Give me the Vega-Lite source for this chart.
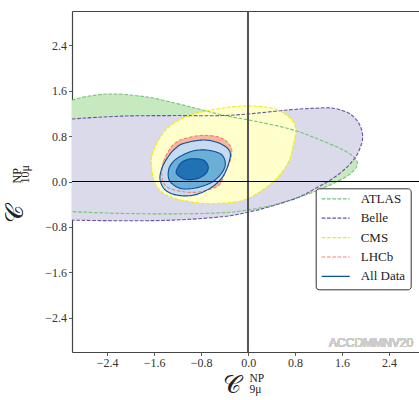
{
  "$schema": "https://vega.github.io/schema/vega-lite/v6.json",
  "width": 347,
  "height": 341,
  "autosize": {"type": "none"},
  "padding": {"left": 72, "top": 11, "right": 0, "bottom": 48},
  "background": "white",
  "config": {"view": {"stroke": null}},
  "datasets": {
    "contours": [
      {"g":"ATLAS","c":"ATLAS","i":0,"x":-3.3,"y":1.25},
      {"g":"ATLAS","c":"ATLAS","i":1,"x":-3.0,"y":1.43},
      {"g":"ATLAS","c":"ATLAS","i":2,"x":-2.6,"y":1.52},
      {"g":"ATLAS","c":"ATLAS","i":3,"x":-2.26,"y":1.54},
      {"g":"ATLAS","c":"ATLAS","i":4,"x":-1.9,"y":1.51},
      {"g":"ATLAS","c":"ATLAS","i":5,"x":-1.58,"y":1.46},
      {"g":"ATLAS","c":"ATLAS","i":6,"x":-1.01,"y":1.32},
      {"g":"ATLAS","c":"ATLAS","i":7,"x":-0.44,"y":1.17},
      {"g":"ATLAS","c":"ATLAS","i":8,"x":0.12,"y":1.06},
      {"g":"ATLAS","c":"ATLAS","i":9,"x":0.69,"y":0.93},
      {"g":"ATLAS","c":"ATLAS","i":10,"x":1.11,"y":0.78},
      {"g":"ATLAS","c":"ATLAS","i":11,"x":1.57,"y":0.58},
      {"g":"ATLAS","c":"ATLAS","i":12,"x":1.79,"y":0.44},
      {"g":"ATLAS","c":"ATLAS","i":13,"x":1.86,"y":0.33},
      {"g":"ATLAS","c":"ATLAS","i":14,"x":1.82,"y":0.22},
      {"g":"ATLAS","c":"ATLAS","i":15,"x":1.68,"y":0.09},
      {"g":"ATLAS","c":"ATLAS","i":16,"x":1.40,"y":-0.06},
      {"g":"ATLAS","c":"ATLAS","i":17,"x":1.10,"y":-0.19},
      {"g":"ATLAS","c":"ATLAS","i":18,"x":0.80,"y":-0.30},
      {"g":"ATLAS","c":"ATLAS","i":19,"x":0.41,"y":-0.42},
      {"g":"ATLAS","c":"ATLAS","i":20,"x":0.0,"y":-0.50},
      {"g":"ATLAS","c":"ATLAS","i":21,"x":-0.44,"y":-0.55},
      {"g":"ATLAS","c":"ATLAS","i":22,"x":-1.29,"y":-0.57},
      {"g":"ATLAS","c":"ATLAS","i":23,"x":-2.2,"y":-0.56},
      {"g":"ATLAS","c":"ATLAS","i":24,"x":-3.0,"y":-0.53},
      {"g":"ATLAS","c":"ATLAS","i":25,"x":-3.3,"y":-0.50},

      {"g":"Belle","c":"Belle","i":0,"x":-3.3,"y":1.06},
      {"g":"Belle","c":"Belle","i":1,"x":-3.0,"y":1.10},
      {"g":"Belle","c":"Belle","i":2,"x":-2.15,"y":1.15},
      {"g":"Belle","c":"Belle","i":3,"x":-1.29,"y":1.16},
      {"g":"Belle","c":"Belle","i":4,"x":-0.44,"y":1.16},
      {"g":"Belle","c":"Belle","i":5,"x":0.12,"y":1.20},
      {"g":"Belle","c":"Belle","i":6,"x":0.69,"y":1.26},
      {"g":"Belle","c":"Belle","i":7,"x":1.15,"y":1.29},
      {"g":"Belle","c":"Belle","i":8,"x":1.45,"y":1.29},
      {"g":"Belle","c":"Belle","i":9,"x":1.70,"y":1.21},
      {"g":"Belle","c":"Belle","i":10,"x":1.85,"y":1.08},
      {"g":"Belle","c":"Belle","i":11,"x":1.93,"y":0.92},
      {"g":"Belle","c":"Belle","i":12,"x":1.95,"y":0.76},
      {"g":"Belle","c":"Belle","i":13,"x":1.91,"y":0.60},
      {"g":"Belle","c":"Belle","i":14,"x":1.83,"y":0.43},
      {"g":"Belle","c":"Belle","i":15,"x":1.68,"y":0.25},
      {"g":"Belle","c":"Belle","i":16,"x":1.45,"y":0.06},
      {"g":"Belle","c":"Belle","i":17,"x":1.15,"y":-0.12},
      {"g":"Belle","c":"Belle","i":18,"x":0.85,"y":-0.28},
      {"g":"Belle","c":"Belle","i":19,"x":0.41,"y":-0.43},
      {"g":"Belle","c":"Belle","i":20,"x":0.0,"y":-0.54},
      {"g":"Belle","c":"Belle","i":21,"x":-0.44,"y":-0.62},
      {"g":"Belle","c":"Belle","i":22,"x":-1.29,"y":-0.68},
      {"g":"Belle","c":"Belle","i":23,"x":-2.15,"y":-0.69},
      {"g":"Belle","c":"Belle","i":24,"x":-3.0,"y":-0.68},
      {"g":"Belle","c":"Belle","i":25,"x":-3.3,"y":-0.67},

      {"g":"CMS","c":"CMS","i":0,"x":-1.65,"y":0.29},
      {"g":"CMS","c":"CMS","i":1,"x":-1.61,"y":0.55},
      {"g":"CMS","c":"CMS","i":2,"x":-1.47,"y":0.82},
      {"g":"CMS","c":"CMS","i":3,"x":-1.33,"y":0.98},
      {"g":"CMS","c":"CMS","i":4,"x":-1.12,"y":1.11},
      {"g":"CMS","c":"CMS","i":5,"x":-0.88,"y":1.20},
      {"g":"CMS","c":"CMS","i":6,"x":-0.61,"y":1.26},
      {"g":"CMS","c":"CMS","i":7,"x":-0.30,"y":1.31},
      {"g":"CMS","c":"CMS","i":8,"x":0.01,"y":1.33},
      {"g":"CMS","c":"CMS","i":9,"x":0.41,"y":1.29},
      {"g":"CMS","c":"CMS","i":10,"x":0.69,"y":1.14},
      {"g":"CMS","c":"CMS","i":11,"x":0.81,"y":0.94},
      {"g":"CMS","c":"CMS","i":12,"x":0.77,"y":0.64},
      {"g":"CMS","c":"CMS","i":13,"x":0.69,"y":0.35},
      {"g":"CMS","c":"CMS","i":14,"x":0.49,"y":0.06},
      {"g":"CMS","c":"CMS","i":15,"x":0.20,"y":-0.18},
      {"g":"CMS","c":"CMS","i":16,"x":-0.08,"y":-0.33},
      {"g":"CMS","c":"CMS","i":17,"x":-0.42,"y":-0.38},
      {"g":"CMS","c":"CMS","i":18,"x":-0.82,"y":-0.38},
      {"g":"CMS","c":"CMS","i":19,"x":-1.33,"y":-0.27},
      {"g":"CMS","c":"CMS","i":20,"x":-1.57,"y":-0.06},

      {"g":"LHCb","c":"LHCb","i":0,"x":-1.47,"y":0.11},
      {"g":"LHCb","c":"LHCb","i":1,"x":-1.44,"y":0.35},
      {"g":"LHCb","c":"LHCb","i":2,"x":-1.33,"y":0.58},
      {"g":"LHCb","c":"LHCb","i":3,"x":-1.21,"y":0.70},
      {"g":"LHCb","c":"LHCb","i":4,"x":-1.10,"y":0.75},
      {"g":"LHCb","c":"LHCb","i":5,"x":-0.82,"y":0.81},
      {"g":"LHCb","c":"LHCb","i":6,"x":-0.53,"y":0.79},
      {"g":"LHCb","c":"LHCb","i":7,"x":-0.36,"y":0.70},
      {"g":"LHCb","c":"LHCb","i":8,"x":-0.28,"y":0.55},
      {"g":"LHCb","c":"LHCb","i":9,"x":-0.31,"y":0.35},
      {"g":"LHCb","c":"LHCb","i":10,"x":-0.39,"y":0.17},
      {"g":"LHCb","c":"LHCb","i":11,"x":-0.44,"y":0.03},
      {"g":"LHCb","c":"LHCb","i":12,"x":-0.53,"y":-0.09},
      {"g":"LHCb","c":"LHCb","i":13,"x":-0.82,"y":-0.18},
      {"g":"LHCb","c":"LHCb","i":14,"x":-1.10,"y":-0.18},
      {"g":"LHCb","c":"LHCb","i":15,"x":-1.39,"y":-0.09},

      {"g":"AD3","c":"All Data","i":0,"x":-1.50,"y":0.03},
      {"g":"AD3","c":"All Data","i":1,"x":-1.47,"y":0.23},
      {"g":"AD3","c":"All Data","i":2,"x":-1.36,"y":0.44},
      {"g":"AD3","c":"All Data","i":3,"x":-1.24,"y":0.58},
      {"g":"AD3","c":"All Data","i":4,"x":-1.10,"y":0.67},
      {"g":"AD3","c":"All Data","i":5,"x":-0.76,"y":0.73},
      {"g":"AD3","c":"All Data","i":6,"x":-0.48,"y":0.67},
      {"g":"AD3","c":"All Data","i":7,"x":-0.31,"y":0.52},
      {"g":"AD3","c":"All Data","i":8,"x":-0.34,"y":0.29},
      {"g":"AD3","c":"All Data","i":9,"x":-0.45,"y":0.06},
      {"g":"AD3","c":"All Data","i":10,"x":-0.65,"y":-0.12},
      {"g":"AD3","c":"All Data","i":11,"x":-0.93,"y":-0.24},
      {"g":"AD3","c":"All Data","i":12,"x":-1.21,"y":-0.24},
      {"g":"AD3","c":"All Data","i":13,"x":-1.41,"y":-0.15},

      {"g":"AD2","c":"All Data","i":0,"x":-1.33,"y":0.00},
      {"g":"AD2","c":"All Data","i":1,"x":-1.36,"y":0.17},
      {"g":"AD2","c":"All Data","i":2,"x":-1.30,"y":0.32},
      {"g":"AD2","c":"All Data","i":3,"x":-1.16,"y":0.44},
      {"g":"AD2","c":"All Data","i":4,"x":-0.93,"y":0.54},
      {"g":"AD2","c":"All Data","i":5,"x":-0.68,"y":0.55},
      {"g":"AD2","c":"All Data","i":6,"x":-0.45,"y":0.47},
      {"g":"AD2","c":"All Data","i":7,"x":-0.39,"y":0.29},
      {"g":"AD2","c":"All Data","i":8,"x":-0.48,"y":0.11},
      {"g":"AD2","c":"All Data","i":9,"x":-0.65,"y":-0.03},
      {"g":"AD2","c":"All Data","i":10,"x":-0.93,"y":-0.12},
      {"g":"AD2","c":"All Data","i":11,"x":-1.16,"y":-0.12},

      {"g":"AD1","c":"All Data","i":0,"x":-1.22,"y":0.14},
      {"g":"AD1","c":"All Data","i":1,"x":-1.19,"y":0.26},
      {"g":"AD1","c":"All Data","i":2,"x":-1.13,"y":0.34},
      {"g":"AD1","c":"All Data","i":3,"x":-1.02,"y":0.39},
      {"g":"AD1","c":"All Data","i":4,"x":-0.90,"y":0.40},
      {"g":"AD1","c":"All Data","i":5,"x":-0.75,"y":0.37},
      {"g":"AD1","c":"All Data","i":6,"x":-0.68,"y":0.26},
      {"g":"AD1","c":"All Data","i":7,"x":-0.72,"y":0.14},
      {"g":"AD1","c":"All Data","i":8,"x":-0.87,"y":0.05},
      {"g":"AD1","c":"All Data","i":9,"x":-1.07,"y":0.04}
    ]
  },
  "data": {"name": "contours"},
  "resolve": {"axis": {"x": "independent", "y": "independent"}},
  "layer": [
    {
      "transform": [{"filter": {"field": "g", "equal": "ATLAS"}}],
      "mark": {"type": "line", "interpolate": "cardinal-closed", "fill": "#c7e9c0", "strokeWidth": 0, "strokeOpacity": 0, "clip": true},
      "encoding": {
        "x": {"field": "x", "type": "quantitative", "scale": {"domain": [-3, 2.91], "nice": false, "zero": false},
          "axis": {"orient": "bottom", "values": [-2.4, -1.6, -0.8, 0, 0.8, 1.6, 2.4], "format": ".1f", "grid": false,
            "labelFont": "Liberation Serif", "labelFontSize": 12, "labelColor": "#333", "labelPadding": 2,
            "tickColor": "#333", "tickSize": 3.5, "tickWidth": 0.8, "domainColor": "#444", "domainWidth": 1.2,
            "title": "𝒞", "titleFont": "DejaVu Serif", "titleFontSize": 25, "titleFontWeight": "normal", "titleColor": "#222",
            "titleX": 159, "titleY": 40, "titleAlign": "center", "titleBaseline": "alphabetic"}},
        "y": {"field": "y", "type": "quantitative", "scale": {"domain": [-3, 3], "nice": false, "zero": false},
          "axis": {"orient": "left", "values": [-2.4, -1.6, -0.8, 0, 0.8, 1.6, 2.4], "format": ".1f", "grid": false,
            "labelFont": "Liberation Serif", "labelFontSize": 12, "labelColor": "#333", "labelPadding": 2,
            "tickColor": "#333", "tickSize": 3.5, "tickWidth": 0.8, "domainColor": "#444", "domainWidth": 1.2,
            "title": "𝒞", "titleFont": "DejaVu Serif", "titleFontSize": 25, "titleFontWeight": "normal", "titleColor": "#222",
            "titleAngle": 270, "titleX": -50, "titleY": 202, "titleAlign": "center", "titleBaseline": "alphabetic"}},
        "order": {"field": "i", "type": "quantitative"}
      }
    },
    {
      "transform": [{"filter": {"field": "g", "equal": "Belle"}}],
      "mark": {"type": "line", "interpolate": "cardinal-closed", "fill": "#dadaeb", "strokeWidth": 0, "strokeOpacity": 0, "clip": true},
      "encoding": {
        "x": {"field": "x", "type": "quantitative", "scale": {"domain": [-3, 2.91], "nice": false, "zero": false},
          "axis": {"orient": "top", "grid": false, "ticks": false, "labels": false, "domain": true, "domainColor": "#444", "domainWidth": 1.2,
            "title": ["NP", "9μ"], "titleFont": "Liberation Serif", "titleFontSize": 11.5, "titleFontWeight": "normal", "titleColor": "#222",
            "titleLineHeight": 11.5, "titleX": 177, "titleY": 370, "titleAlign": "left", "titleBaseline": "alphabetic", "titleAngle": 0}},
        "y": {"field": "y", "type": "quantitative", "scale": {"domain": [-3, 3], "nice": false, "zero": false},
          "axis": {"orient": "right", "grid": false, "ticks": false, "labels": false, "domain": false,
            "title": ["NP", "10μ"], "titleFont": "Liberation Serif", "titleFontSize": 12, "titleFontWeight": "normal", "titleColor": "#222",
            "titleLineHeight": 7.5, "titleAngle": 270, "titleX": -398.5, "titleY": 172, "titleAlign": "left", "titleBaseline": "alphabetic"}},
        "order": {"field": "i", "type": "quantitative"}
      }
    },
    {
      "transform": [{"filter": {"field": "g", "equal": "CMS"}}],
      "mark": {"type": "line", "interpolate": "cardinal-closed", "fill": "#ffffcc", "strokeWidth": 0, "strokeOpacity": 0, "clip": true},
      "encoding": {
        "x": {"field": "x", "type": "quantitative", "scale": {"domain": [-3, 2.91], "nice": false, "zero": false}, "axis": null},
        "y": {"field": "y", "type": "quantitative", "scale": {"domain": [-3, 3], "nice": false, "zero": false}, "axis": null},
        "order": {"field": "i", "type": "quantitative"}
      }
    },
    {
      "transform": [{"filter": {"field": "g", "equal": "LHCb"}}],
      "mark": {"type": "line", "interpolate": "cardinal-closed", "fill": "#fcb49c", "strokeWidth": 0, "strokeOpacity": 0, "clip": true},
      "encoding": {
        "x": {"field": "x", "type": "quantitative", "scale": {"domain": [-3, 2.91], "nice": false, "zero": false}, "axis": null},
        "y": {"field": "y", "type": "quantitative", "scale": {"domain": [-3, 3], "nice": false, "zero": false}, "axis": null},
        "order": {"field": "i", "type": "quantitative"}
      }
    },
    {
      "transform": [{"filter": {"field": "g", "equal": "AD3"}}],
      "mark": {"type": "line", "interpolate": "cardinal-closed", "fill": "#c6dbef", "strokeWidth": 0, "strokeOpacity": 0, "clip": true},
      "encoding": {
        "x": {"field": "x", "type": "quantitative", "scale": {"domain": [-3, 2.91], "nice": false, "zero": false}, "axis": null},
        "y": {"field": "y", "type": "quantitative", "scale": {"domain": [-3, 3], "nice": false, "zero": false}, "axis": null},
        "order": {"field": "i", "type": "quantitative"}
      }
    },
    {
      "transform": [{"filter": {"field": "g", "equal": "AD2"}}],
      "mark": {"type": "line", "interpolate": "cardinal-closed", "fill": "#6baed6", "strokeWidth": 0, "strokeOpacity": 0, "clip": true},
      "encoding": {
        "x": {"field": "x", "type": "quantitative", "scale": {"domain": [-3, 2.91], "nice": false, "zero": false}, "axis": null},
        "y": {"field": "y", "type": "quantitative", "scale": {"domain": [-3, 3], "nice": false, "zero": false}, "axis": null},
        "order": {"field": "i", "type": "quantitative"}
      }
    },
    {
      "transform": [{"filter": {"field": "g", "equal": "AD1"}}],
      "mark": {"type": "line", "interpolate": "cardinal-closed", "fill": "#2171b5", "strokeWidth": 0, "strokeOpacity": 0, "clip": true},
      "encoding": {
        "x": {"field": "x", "type": "quantitative", "scale": {"domain": [-3, 2.91], "nice": false, "zero": false}, "axis": null},
        "y": {"field": "y", "type": "quantitative", "scale": {"domain": [-3, 3], "nice": false, "zero": false}, "axis": null},
        "order": {"field": "i", "type": "quantitative"}
      }
    },
    {
      "mark": {"type": "line", "interpolate": "cardinal-closed", "strokeWidth": 1.1, "clip": true},
      "encoding": {
        "x": {"field": "x", "type": "quantitative", "scale": {"domain": [-3, 2.91], "nice": false, "zero": false}, "axis": null},
        "y": {"field": "y", "type": "quantitative", "scale": {"domain": [-3, 3], "nice": false, "zero": false}, "axis": null},
        "order": {"field": "i", "type": "quantitative"},
        "detail": {"field": "g"},
        "stroke": {"field": "c", "type": "nominal",
          "scale": {"domain": ["ATLAS", "Belle", "CMS", "LHCb", "All Data"], "range": ["#74c476", "#6a51a3", "#f2ee00", "#f4836c", "#08519c"]},
          "legend": {"title": null, "orient": "none", "legendX": 243.7, "legendY": 177.3, "symbolType": "stroke", "symbolSize": 784,
            "symbolStrokeWidth": 1.2, "clipHeight": 11, "rowPadding": 5.4, "labelOffset": 10, "labelFont": "Liberation Serif",
            "labelFontSize": 13, "labelColor": "#222", "padding": 5, "strokeColor": "#333", "fillColor": "#ffffff", "cornerRadius": 3}},
        "strokeDash": {"field": "c", "type": "nominal",
          "scale": {"domain": ["ATLAS", "Belle", "CMS", "LHCb", "All Data"], "range": [[3.7, 1.6], [3.7, 1.6], [3.7, 1.6], [3.7, 1.6], [1, 0]]},
          "legend": {"title": null, "orient": "none", "legendX": 243.7, "legendY": 177.3, "symbolType": "stroke", "symbolSize": 784,
            "symbolStrokeWidth": 1.2, "clipHeight": 11, "rowPadding": 5.4, "labelOffset": 10, "labelFont": "Liberation Serif",
            "labelFontSize": 13, "labelColor": "#222", "padding": 5, "strokeColor": "#333", "fillColor": "#ffffff", "cornerRadius": 3}}
      }
    },
    {
      "mark": {"type": "rule", "color": "#555", "strokeWidth": 1.3},
      "encoding": {
        "x": {"datum": 0, "type": "quantitative", "scale": {"domain": [-3, 2.91], "nice": false, "zero": false}, "axis": null}
      }
    },
    {
      "mark": {"type": "rule", "color": "#000", "strokeWidth": 1},
      "encoding": {
        "y": {"datum": 0, "type": "quantitative", "scale": {"domain": [-3, 3], "nice": false, "zero": false}, "axis": null}
      }
    },
    {
      "mark": {"type": "text", "text": "ACCDMMNV20", "font": "Liberation Sans", "fontSize": 12, "color": "#cccccc", "align": "right", "baseline": "alphabetic"},
      "encoding": {
        "x": {"datum": 2.81, "type": "quantitative", "scale": {"domain": [-3, 2.91], "nice": false, "zero": false}, "axis": null},
        "y": {"datum": -2.905, "type": "quantitative", "scale": {"domain": [-3, 3], "nice": false, "zero": false}, "axis": null}
      }
    }
  ]
}
